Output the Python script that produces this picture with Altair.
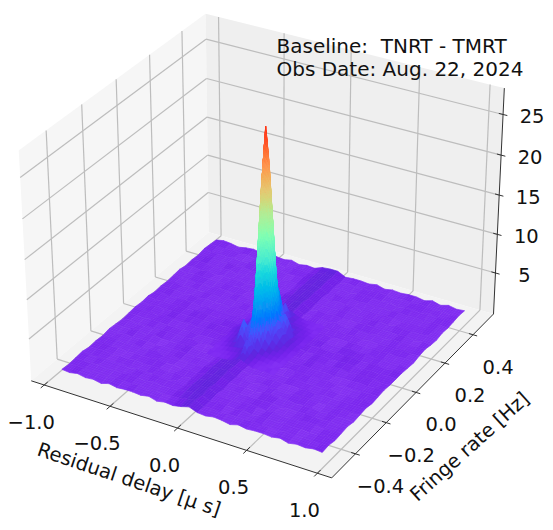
import math
import numpy as np
import pandas as pd
import altair as alt

alt.data_transformers.disable_max_rows()

# axis limits of the box
DELAY_LIM = 1.1
RATE_LIM = 0.55
Z_LOW, Z_HIGH = -0.4, 28.2

DELAY_TICKS = [-1.0, -0.5, 0.0, 0.5, 1.0]
RATE_TICKS = [-0.4, -0.2, 0.0, 0.2, 0.4]
Z_TICKS = [5, 10, 15, 20, 25]

# floor of the fringe map, digit d means z = 0.15 + 0.1 d
# (rows: rate -0.48..0.48, columns: delay -0.955..0.955)
FLOOR = [
 "435342534435243584354253443524354",
 "354253443524345793524435342534435",
 "443524354253446873543524435342453",
 "534435243543527895243543524354344",
 "345243534425346972534354243543525",
 "453524345342536884342453534425343",
 "344253452534347893525342445243534",
 "525344243543526874243534352534445",
 "434525334452437973534245343524353",
 "352434543524356895342534435243444",
 "443543425344547974435354352435345",
 "535254353453546895454345345354534",
 "435354453545446894546345345435354",
 "534353454345446895435453546345354",
 "353445243534346884353542453534243",
 "445243534253547893524434352445352",
 "352534425344246872534353524343534",
 "434352543524536883443524435254345",
 "525443435243457892535243543435243",
 "343524352534346873424534352544352",
 "454345243453527884353425344243534",
 "345253534342436872534352435352443",
 "534342445253447883425443524435354",
 "443534253424536872534354253543425",
 "354245344352437883443524344252534",
]

# the central peak, finer grid (rows: rate index -8..8, columns: delay index -8..8)
PEAK = [
 [.5,.6,.4,.6,.5,.6,.7,.9,1.2,.9,.7,.5,.6,.4,.6,.5,.4],
 [.6,.5,.6,.5,.6,.6,.7,1.0,1.5,1.0,.7,.6,.5,.6,.5,.6,.5],
 [.4,.6,.5,.6,.6,.7,.8,1.1,2.8,1.2,.8,.6,.6,.5,.5,.4,.6],
 [.6,.5,.6,.7,.8,.9,1.0,1.4,2.2,1.4,1.0,.8,.7,.6,.6,.5,.5],
 [.5,.6,.7,.9,1.1,2.2,1.3,2.2,4.5,2.4,1.3,1.0,.8,.7,.6,.6,.5],
 [.6,.6,.8,1.0,2.2,3.8,2.0,3.6,6.5,3.8,2.0,1.3,.9,.8,.7,.5,.6],
 [.5,.7,.8,1.0,1.5,2.6,2.8,6.0,13.0,6.4,2.8,1.7,1.2,.9,.7,.6,.5],
 [.6,.7,.9,1.3,1.4,2.4,4.5,13.5,22.0,16.0,5.0,2.2,1.5,1.0,.8,.6,.6],
 [.7,.9,1.0,1.5,2.2,2.8,7.0,20.0,27.3,20.0,7.0,2.4,1.8,1.1,.9,.7,.6],
 [.6,.8,.9,1.2,1.7,2.2,5.0,16.0,22.5,14.0,5.0,2.2,1.5,1.0,.8,.6,.5],
 [.5,.7,.8,1.0,1.4,2.0,3.0,6.4,13.5,6.6,3.0,3.6,2.4,.9,.8,.6,.6],
 [.6,.6,.7,.9,1.1,1.5,2.2,3.8,7.0,4.0,2.2,2.4,1.1,.8,.7,.7,.5],
 [.5,.6,.7,.8,.9,1.1,1.5,2.4,5.4,2.6,1.5,1.1,.9,.8,.6,.7,.5],
 [.6,.5,.6,.7,.8,.9,1.0,1.5,2.6,1.6,1.0,.9,.8,.7,.7,.5,.5],
 [.4,.6,.5,.6,.7,.7,.8,1.1,3.0,1.2,.8,.7,.7,.6,.5,.6,.5],
 [.6,.5,.6,.6,.6,.7,.7,1.0,1.7,1.0,.7,.7,.6,.6,.5,.5,.6],
 [.5,.6,.5,.6,.5,.6,.7,.9,1.2,.9,.7,.6,.5,.6,.5,.6,.4],
]

TITLE_LINES = ["Baseline:\u00a0\u00a0TNRT - TMRT", "Obs Date: Aug. 22, 2024"]
X_LABEL = "Residual delay [μ s]"
Y_LABEL = "Fringe rate [Hz]"

# colour map: rainbow with the shaded purples of the noise floor at its low end
CMAP_DOMAIN = [0.35, 0.45, 0.55, 0.65, 1.0, 1.5, 2.8, 5.6, 8.4, 11.2, 14.0, 16.8, 19.6, 22.4, 25.2, 28.0]
CMAP = ["#9444fa", "#8836f6", "#7e2af2", "#7422ec", "#6024de", "#5a30ea", "#4c4ffc", "#1996f3",
        "#1ac7e3", "#4ceccf", "#80ffb4", "#b2ec96", "#e6c774", "#ff9650", "#ff4f28", "#ff0000"]

# camera calibration: known box points and where they appear in the picture
CAMERA_ANCHORS = [
 (-DELAY_LIM, -RATE_LIM, Z_LOW, 29, 379), (-DELAY_LIM, -RATE_LIM, Z_HIGH, 18, 150),
 (DELAY_LIM, -RATE_LIM, Z_LOW, 333, 478), (DELAY_LIM, RATE_LIM, Z_LOW, 494, 313),
 (DELAY_LIM, RATE_LIM, Z_HIGH, 504, 89), (-DELAY_LIM, RATE_LIM, Z_LOW, 208, 232),
 (-DELAY_LIM, RATE_LIM, Z_HIGH, 206, 14),
 (-1.0, -RATE_LIM, Z_LOW, 47, 386), (-0.5, -RATE_LIM, Z_LOW, 112, 407),
 (0.0, -RATE_LIM, Z_LOW, 178, 429), (0.5, -RATE_LIM, Z_LOW, 244, 452),
 (1.0, -RATE_LIM, Z_LOW, 313, 471.5),
 (DELAY_LIM, -0.4, Z_LOW, 358.7, 452.3), (DELAY_LIM, -0.2, Z_LOW, 387.9, 422.3),
 (DELAY_LIM, 0.0, Z_LOW, 416, 393.3), (DELAY_LIM, 0.2, Z_LOW, 444.7, 364),
 (DELAY_LIM, 0.4, Z_LOW, 470.7, 337.3),
 (DELAY_LIM, RATE_LIM, 5, 496, 271.7), (DELAY_LIM, RATE_LIM, 10, 497.7, 233.3),
 (DELAY_LIM, RATE_LIM, 15, 499.5, 194.3), (DELAY_LIM, RATE_LIM, 20, 501.3, 155),
 (DELAY_LIM, RATE_LIM, 25, 503.2, 115),
]


def norm3(d, r, z):
    return d / DELAY_LIM, r / RATE_LIM, (z - 14.0) / 14.3


rows = []
for d, r, z, u, v in CAMERA_ANCHORS:
    X, Y, Z = norm3(d, r, z)
    uu, vv = (u - 270) / 270, (v - 260) / 270
    rows.append([X, Y, Z, 1, 0, 0, 0, 0, -uu * X, -uu * Y, -uu * Z, -uu])
    rows.append([0, 0, 0, 0, X, Y, Z, 1, -vv * X, -vv * Y, -vv * Z, -vv])
CAM = np.linalg.svd(np.array(rows))[2][-1].reshape(3, 4)


def project(d, r, z):
    X, Y, Z = norm3(d, r, z)
    h = CAM @ np.array([X, Y, Z, 1.0])
    return h[0] / h[2] * 270 + 270, h[1] / h[2] * 270 + 260


def depth(d, r):
    return 0.5 * d / DELAY_LIM - 0.866 * r / RATE_LIM


def quad_rows(pid, pts, z):
    """Turn a projected quadrilateral into the x / y / y2 rows of an area mark."""
    xs = sorted({round(p[0], 3) for p in pts})
    if len(xs) == 1:
        xs = [xs[0], xs[0] + 0.01]
    out = []
    n = len(pts)
    for x in xs:
        ys = []
        for i in range(n):
            (x0, y0), (x1, y1) = pts[i], pts[(i + 1) % n]
            lo, hi = min(x0, x1) - 0.002, max(x0, x1) + 0.002
            if lo <= x <= hi:
                if abs(x1 - x0) < 1e-6:
                    ys += [y0, y1]
                else:
                    ys.append(y0 + (y1 - y0) * (x - x0) / (x1 - x0))
        if ys:
            out.append({"id": pid, "x": x, "y": min(ys), "y2": max(ys), "z": z})
    return out


def surface_rows(delays, rates, table, start):
    """Cells of the surface, far ones first; tall cells are split so the colour runs smoothly."""
    cells = []
    for j in range(len(rates) - 1):
        for i in range(len(delays) - 1):
            z00, z10 = table[j][i], table[j][i + 1]
            z11, z01 = table[j + 1][i + 1], table[j + 1][i]
            span = max(z00, z10, z11, z01) - min(z00, z10, z11, z01)
            n = min(10, max(1, math.ceil(span / 1.5)))
            for a in range(n):
                for b in range(n):
                    corners = []
                    for s, t in [(a, b), (a + 1, b), (a + 1, b + 1), (a, b + 1)]:
                        fs, ft = s / n, t / n
                        d = delays[i] + (delays[i + 1] - delays[i]) * fs
                        r = rates[j] + (rates[j + 1] - rates[j]) * ft
                        z = (z00 * (1 - fs) * (1 - ft) + z10 * fs * (1 - ft)
                             + z11 * fs * ft + z01 * (1 - fs) * ft)
                        corners.append((d, r, z))
                    dm = sum(c[0] for c in corners) / 4
                    rm = sum(c[1] for c in corners) / 4
                    cells.append((depth(dm, rm), len(cells), corners))
    cells.sort(key=lambda c: (c[0], c[1]))
    out = []
    for k, (_, _, corners) in enumerate(cells):
        pts = [project(*c) for c in corners]
        zm = sum(c[2] for c in corners) / 4
        out += quad_rows(start + k, pts, zm)
    return out


floor_z = [[0.15 + 0.1 * int(c) for c in row] for row in FLOOR]
floor_delays = [-0.955 + 1.91 * i / 32 for i in range(33)]
floor_rates = [-0.48 + 0.96 * j / 24 for j in range(25)]
peak_delays = [i / 32 for i in range(-8, 9)]
peak_rates = [j / 48 for j in range(-8, 9)]

floor_df = pd.DataFrame(surface_rows(floor_delays, floor_rates, floor_z, 0))
peak_df = pd.DataFrame(surface_rows(peak_delays, peak_rates, PEAK, 100000))

# panes
pane_rows = []
pane_rows += [dict(r, c="left") for r in quad_rows(0, [project(-DELAY_LIM, -RATE_LIM, Z_LOW), project(-DELAY_LIM, RATE_LIM, Z_LOW), project(-DELAY_LIM, RATE_LIM, Z_HIGH), project(-DELAY_LIM, -RATE_LIM, Z_HIGH)], 0)]
pane_rows += [dict(r, c="right") for r in quad_rows(1, [project(-DELAY_LIM, RATE_LIM, Z_LOW), project(DELAY_LIM, RATE_LIM, Z_LOW), project(DELAY_LIM, RATE_LIM, Z_HIGH), project(-DELAY_LIM, RATE_LIM, Z_HIGH)], 0)]
pane_rows += [dict(r, c="floor") for r in quad_rows(2, [project(-DELAY_LIM, -RATE_LIM, Z_LOW), project(DELAY_LIM, -RATE_LIM, Z_LOW), project(DELAY_LIM, RATE_LIM, Z_LOW), project(-DELAY_LIM, RATE_LIM, Z_LOW)], 0)]
pane_df = pd.DataFrame(pane_rows)


def seg(a, b):
    pa, pb = project(*a), project(*b)
    return {"x": pa[0], "y": pa[1], "x2": pb[0], "y2": pb[1]}


grid = []
for d in DELAY_TICKS:
    grid.append(seg((d, -RATE_LIM, Z_LOW), (d, RATE_LIM, Z_LOW)))
    grid.append(seg((d, RATE_LIM, Z_LOW), (d, RATE_LIM, Z_HIGH)))
for r in RATE_TICKS:
    grid.append(seg((DELAY_LIM, r, Z_LOW), (-DELAY_LIM, r, Z_LOW)))
    grid.append(seg((-DELAY_LIM, r, Z_LOW), (-DELAY_LIM, r, Z_HIGH)))
for z in Z_TICKS:
    grid.append(seg((-DELAY_LIM, -RATE_LIM, z), (-DELAY_LIM, RATE_LIM, z)))
    grid.append(seg((-DELAY_LIM, RATE_LIM, z), (DELAY_LIM, RATE_LIM, z)))
grid_df = pd.DataFrame(grid)

axis_df = pd.DataFrame([
    seg((-DELAY_LIM, -RATE_LIM, Z_LOW), (DELAY_LIM, -RATE_LIM, Z_LOW)),
    seg((DELAY_LIM, -RATE_LIM, Z_LOW), (DELAY_LIM, RATE_LIM, Z_LOW)),
    seg((DELAY_LIM, RATE_LIM, Z_LOW), (DELAY_LIM, RATE_LIM, Z_HIGH)),
])
tick_df = pd.DataFrame(
    [seg((d, -RATE_LIM - 0.02, Z_LOW), (d, -RATE_LIM + 0.02, Z_LOW)) for d in DELAY_TICKS]
    + [seg((DELAY_LIM - 0.03, r, Z_LOW), (DELAY_LIM + 0.03, r, Z_LOW)) for r in RATE_TICKS]
    + [seg((DELAY_LIM - 0.03, RATE_LIM, z), (DELAY_LIM + 0.03, RATE_LIM, z)) for z in Z_TICKS]
)

# fine mesh of the surface, drawn as thin lines over the floor
mesh_a = [seg((float(d), -0.47, 0.6), (float(d), 0.47, 0.6)) for d in np.linspace(-0.945, 0.945, 110)]
mesh_b = [seg((-0.945, float(r), 0.6), (0.945, float(r), 0.6)) for r in np.linspace(-0.47, 0.47, 80)]
mesh_a_df = pd.DataFrame(mesh_a)
mesh_b_df = pd.DataFrame(mesh_b)


def fmt(v, decimals):
    return f"{v:.{decimals}f}".replace("-", "\u2212")


def label_df(points, decimals):
    out = []
    for v, p3 in points:
        px, py = project(*p3)
        out.append({"x": px, "y": py, "t": fmt(v, decimals)})
    return pd.DataFrame(out)


x_labels = label_df([(d, (d, -RATE_LIM, Z_LOW)) for d in DELAY_TICKS], 1)
y_labels = label_df([(r, (DELAY_LIM, r, Z_LOW)) for r in RATE_TICKS], 1)
z_labels = label_df([(z, (DELAY_LIM, RATE_LIM, z)) for z in Z_TICKS], 0)

X = alt.X("x:Q", scale=alt.Scale(domain=[8, 545], nice=False, zero=False), axis=None)
Y = alt.Y("y:Q", scale=alt.Scale(domain=[522, 8], nice=False, zero=False), axis=None)
COLOR_SCALE = alt.Scale(domain=CMAP_DOMAIN, range=CMAP)
FONT = "DejaVu Sans"


def rules(df, color, width, opacity=1.0):
    return alt.Chart(df).mark_rule(color=color, strokeWidth=width, opacity=opacity).encode(
        x=X, y=Y, x2="x2:Q", y2="y2:Q")


def surface(df):
    return alt.Chart(df).mark_area(strokeWidth=0.7, opacity=1).encode(
        x=X, y=Y, y2="y2:Q", detail="id:N",
        fill=alt.Fill("z:Q", scale=COLOR_SCALE, legend=None),
        stroke=alt.Stroke("z:Q", scale=COLOR_SCALE, legend=None),
    )


def tick_text(df, dx, dy):
    return alt.Chart(df).mark_text(font=FONT, fontSize=19.5, color="#111111", dx=dx, dy=dy,
                                   align="center", baseline="middle").encode(x=X, y=Y, text="t:N")


panes = alt.Chart(pane_df).mark_area(strokeWidth=0).encode(
    x=X, y=Y, y2="y2:Q", detail="id:N",
    fill=alt.Fill("c:N", scale=alt.Scale(domain=["left", "right", "floor"],
                                         range=["#f6f6f6", "#efefef", "#f3f3f3"]), legend=None),
)

titles = [
    alt.Chart(pd.DataFrame({"t": [line]})).mark_text(
        font=FONT, fontSize=20, color="#111111", align="left", baseline="alphabetic"
    ).encode(x=alt.value(268.5), y=alt.value(45 + 23 * i), text="t:N")
    for i, line in enumerate(TITLE_LINES)
]

x_title = alt.Chart(pd.DataFrame({"t": [X_LABEL]})).mark_text(
    font=FONT, fontSize=19.5, color="#111111", angle=18.6, align="center", baseline="middle"
).encode(x=alt.value(121), y=alt.value(472), text="t:N")
y_title = alt.Chart(pd.DataFrame({"t": [Y_LABEL]})).mark_text(
    font=FONT, fontSize=19.5, color="#111111", angle=318, align="center", baseline="middle"
).encode(x=alt.value(462), y=alt.value(439), text="t:N")

chart = alt.layer(
    panes,
    rules(grid_df, "#bdbdbd", 1.2),
    rules(axis_df, "#333333", 1.0),
    rules(tick_df, "#333333", 1.0),
    surface(floor_df),
    rules(mesh_a_df, "#b070f0", 0.7, 0.2),
    rules(mesh_b_df, "#5a14b8", 0.7, 0.14),
    surface(peak_df),
    tick_text(x_labels, -13, 38),
    tick_text(y_labels, 25, 33),
    tick_text(z_labels, 29, 3),
    x_title,
    y_title,
    *titles,
).resolve_scale(fill="independent", stroke="independent").properties(
    width=537, height=514, padding=0, autosize=alt.AutoSizeParams(type="none")
).configure_view(stroke=None)

chart.save("out.html", embed_options={"renderer": "svg", "actions": False})
